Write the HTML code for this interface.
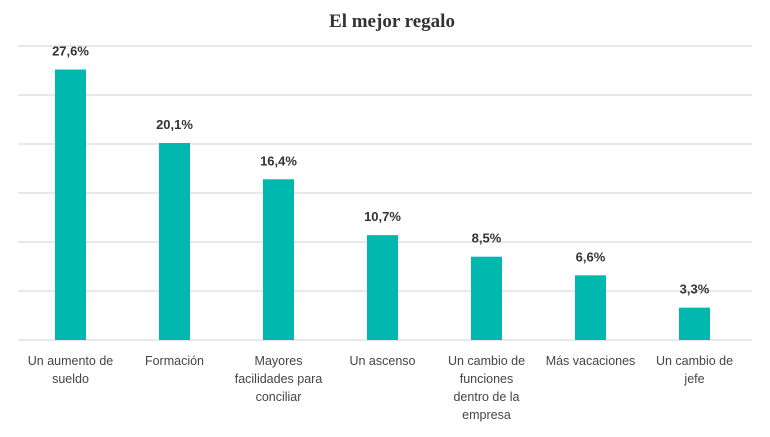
<!DOCTYPE html>
<html><head><meta charset="utf-8"><style>
body{margin:0;width:770px;height:432px;background:#fff;overflow:hidden;font-family:"Liberation Sans",sans-serif}
</style></head><body>
<svg width="770" height="432">
<text x="392" y="27" text-anchor="middle" font-size="19" font-weight="bold" fill="#333" font-family="Liberation Serif, serif">El mejor regalo</text>
<g id="grid"></g><g id="bars"></g><g id="labels"></g>
</svg>
<script>
const categories=[["Un aumento de","sueldo"],["Formación"],["Mayores","facilidades para","conciliar"],["Un ascenso"],["Un cambio de","funciones","dentro de la","empresa"],["Más vacaciones"],["Un cambio de","jefe"]];
const values=[27.6,20.1,16.4,10.7,8.5,6.6,3.3];
const valueLabels=["27,6%","20,1%","16,4%","10,7%","8,5%","6,6%","3,3%"];
const gridTicks=[0,5,10,15,20,25,30];
const NS="http://www.w3.org/2000/svg";
const y=v=>340-v*9.8;
const x=i=>70.5+i*104;
function mk(t,a,p){const e=document.createElementNS(NS,t);for(const k in a)e.setAttribute(k,a[k]);p.appendChild(e);return e;}
const g=document.getElementById('grid'),b=document.getElementById('bars'),l=document.getElementById('labels');
gridTicks.forEach(t=>{const e=mk('line',{x1:18,x2:752,y1:y(t),y2:y(t),stroke:'#e0e0e0','stroke-width':1.5},g);

});
values.forEach((v,i)=>{
const r=mk('rect',{x:x(i)-15.5,y:y(v),width:31,height:y(0)-y(v),fill:'#00b8ad'},b);


const t=mk('text',{x:x(i),y:y(v)-14,'text-anchor':'middle','font-size':13,'font-weight':'bold',fill:'#333'},l);
t.textContent=valueLabels[i];


categories[i].forEach((line,j)=>{
const c=mk('text',{x:x(i),y:365+j*18,'text-anchor':'middle','font-size':12.5,fill:'#444'},l);
c.textContent=line;

});
});
</script>
</body></html>
